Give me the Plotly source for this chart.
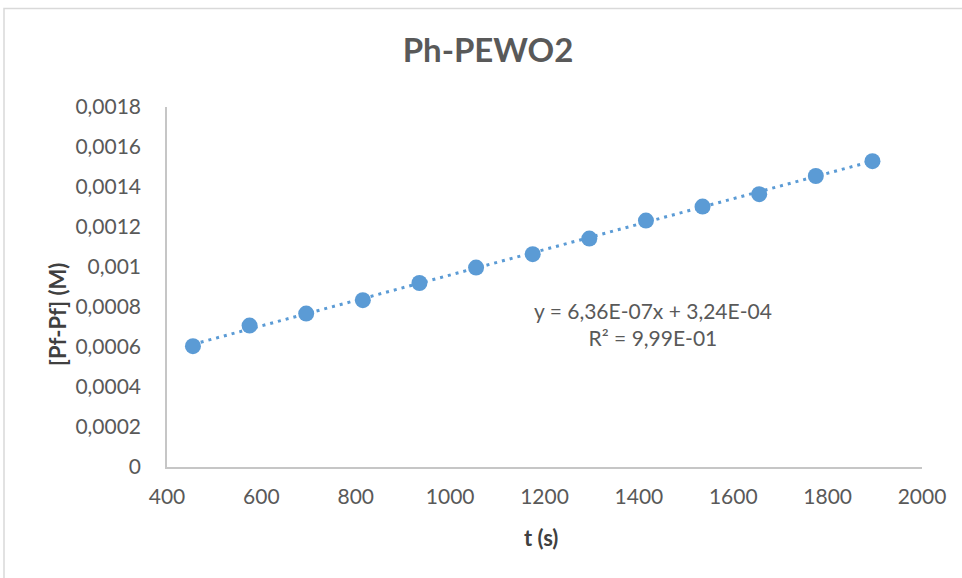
import plotly.graph_objects as go

# Measured concentration difference vs. time
t_s = [455, 575, 695, 815, 935, 1055, 1175, 1295, 1415, 1535, 1655, 1775, 1895]
conc_M = [0.000604, 0.000707, 0.000767, 0.000834, 0.000920, 0.000997, 0.001064,
          0.001142, 0.001232, 0.001302, 0.001364, 0.001455, 0.001529]

# Linear trendline parameters
slope = 6.36e-7
intercept = 3.24e-4
r_squared = 0.999

x_tick_vals = [400, 600, 800, 1000, 1200, 1400, 1600, 1800, 2000]
y_tick_vals = [0, 0.0002, 0.0004, 0.0006, 0.0008, 0.001, 0.0012, 0.0014, 0.0016, 0.0018]
y_tick_text = ["0", "0,0002", "0,0004", "0,0006", "0,0008", "0,001",
               "0,0012", "0,0014", "0,0016", "0,0018"]

W, H = 962, 578
M_L, M_R, M_T, M_B = 167, 40, 107, 111
PW, PH = W - M_L - M_R, H - M_T - M_B


def px_x(px):
    return (px - M_L) / PW


def px_y(py):
    return (H - M_B - py) / PH


BLUE = "#5B9BD5"
AXIS_GRAY = "#C6C6C6"
FONT = "Lato, 'Open Sans', sans-serif"

trend_x = [min(t_s), max(t_s)]
trend_y = [slope * x + intercept for x in trend_x]

fig = go.Figure()
fig.add_trace(go.Scatter(
    x=trend_x, y=trend_y, mode="lines",
    line=dict(color=BLUE, width=3, dash="3px,5px"),
    hoverinfo="skip", showlegend=False,
))
fig.add_trace(go.Scatter(
    x=t_s, y=conc_M, mode="markers",
    marker=dict(color=BLUE, size=16, line=dict(width=0)),
    showlegend=False,
))


def sci(v):
    s = f"{v:.2E}"
    mant, exp = s.split("E")
    sign = exp[0]
    digits = exp[1:].rjust(2, "0")
    return f"{mant.replace('.', ',')}E{sign}{digits}"


eq_text = f"y = {sci(slope)}x + {sci(intercept)}<br>R² = {sci(r_squared)}"

fig.add_annotation(
    x=1430, y=0.000714, xref="x", yref="y", text=eq_text, showarrow=False,
    xanchor="center", yanchor="middle",
    font=dict(family=FONT, size=21, color="#595959"), align="center",
)

# axis titles
fig.add_annotation(
    x=px_x(541), y=px_y(537), xref="paper", yref="paper", text="<b>t (s)</b>",
    xanchor="center", yanchor="middle",
    showarrow=False, font=dict(family=FONT, size=22, color="#404040"),
)
fig.add_annotation(
    x=px_x(57), y=px_y(315), xref="paper", yref="paper", text="<b>[Pf-Pf] (M)</b>",
    xanchor="center", yanchor="middle",
    textangle=-90, showarrow=False, font=dict(family=FONT, size=22, color="#404040"),
)

# chart frame
fig.add_shape(
    type="rect", xref="paper", yref="paper",
    x0=px_x(4), x1=px_x(W + 20), y0=px_y(H + 20), y1=px_y(8.5),
    line=dict(color="#D9D9D9", width=1.5), fillcolor="rgba(0,0,0,0)", layer="below",
)

fig.update_layout(
    width=W, height=H,
    margin=dict(l=M_L, r=M_R, t=M_T, b=M_B),
    paper_bgcolor="white", plot_bgcolor="white",
    title=dict(text="<b>Ph-PEWO2</b>", x=488 / W, y=1 - 50 / H, xref="container",
               yref="container", xanchor="center", yanchor="middle",
               font=dict(family=FONT, size=33, color="#595959")),
    xaxis=dict(range=[400, 2000], tickvals=x_tick_vals, showgrid=False,
               showline=True, linecolor=AXIS_GRAY, linewidth=1.5, zeroline=False,
               ticks="", ticklen=0, ticklabelstandoff=10,
               tickfont=dict(family=FONT, size=21, color="#595959")),
    yaxis=dict(range=[0, 0.0018], tickvals=y_tick_vals, ticktext=y_tick_text,
               showgrid=False, showline=True, linecolor=AXIS_GRAY, linewidth=1.5,
               zeroline=False, ticks="", ticklabelstandoff=20,
               tickfont=dict(family=FONT, size=21, color="#595959")),
)

fig.write_html("out.html")
